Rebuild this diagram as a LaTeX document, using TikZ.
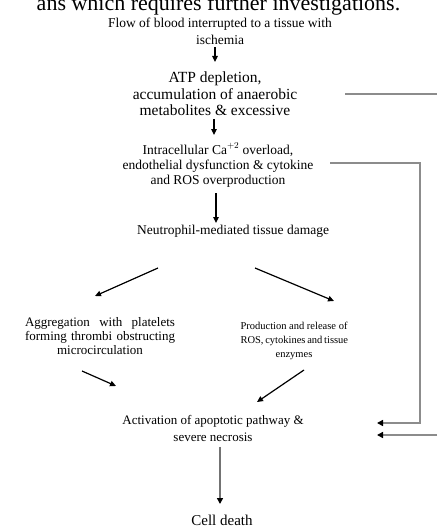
\documentclass[tikz,border=0pt]{standalone}
\usepackage{fontspec}
\setmainfont{Liberation Serif}
\usetikzlibrary{arrows.meta}
\begin{document}
\begin{tikzpicture}[x=1pt,y=-1pt,
  txt/.style={inner sep=0pt, align=center},
  arr/.style={line width=1.2pt, -{Triangle[length=6pt,width=5.5pt]}},
  garr/.style={draw=black!55, line width=1.6pt, -{Triangle[length=6pt,width=6pt,color=black]}},
  side/.style={draw=black!45, line width=1.6pt},
  sidearr/.style={draw=black!45, line width=1.6pt, -{Triangle[length=6pt,width=6pt,color=black]}}]
\useasboundingbox (0,0) rectangle (437,527);
\clip (0,0) rectangle (437,527);

\node[inner sep=0pt, anchor=base, font=\fontsize{22}{26}\selectfont] (head) at (218.5,11) {ans which requires further investigations.};

\node[txt, font=\fontsize{13.5}{17}\selectfont] (flow) at (220,31.5) {Flow of blood interrupted to a tissue with\\ischemia};
\node[txt, font=\fontsize{15.5}{16.5}\selectfont] (atp) at (215,94) {ATP depletion,\\accumulation of anaerobic\\metabolites \& excessive};
\node[txt, font=\fontsize{13.5}{15}\selectfont] (ca) at (218,165) {Intracellular Ca$^{+2}$ overload,\\endothelial dysfunction \& cytokine\\and ROS overproduction};
\node[txt, font=\fontsize{13.5}{15}\selectfont] (neut) at (233,231) {Neutrophil-mediated tissue damage};
\node[txt, font=\fontsize{13}{14}\selectfont] (agg) at (100,336) {\makebox[150pt][s]{Aggregation with platelets}\\\makebox[150pt][s]{forming thrombi obstructing}\\microcirculation};
\node[txt, font=\fontsize{10.5}{14}\selectfont] (prod) at (294,341) {\makebox[107pt][s]{Production and release of}\\\makebox[107pt][s]{ROS, cytokines and tissue}\\enzymes};
\node[txt, font=\fontsize{13}{17}\selectfont] (act) at (213,428.5) {Activation of apoptotic pathway \&\\severe necrosis};
\node[txt, font=\fontsize{15}{17}\selectfont] (cell) at (222,520) {Cell death};

\coordinate (n1) at (158,268); \coordinate (n2) at (95,296);
\coordinate (n3) at (255,268); \coordinate (n4) at (334,301);
\coordinate (a1) at (82,371); \coordinate (a2) at (116,386);
\coordinate (p1) at (304,370); \coordinate (p2) at (257,402);
\coordinate (s1a) at (345,94); \coordinate (s1b) at (437,94);
\coordinate (s2a) at (330,163); \coordinate (s2b) at (420,163); \coordinate (s2c) at (420,423); \coordinate (s2d) at (377,423);
\coordinate (s3a) at (437,435); \coordinate (s3b) at (377,435);

\draw[arr] (flow.south -| 215,0) ++(0,2) -- (215,62);
\draw[arr] (atp.south -| 214,0) ++(0,3) -- (214,135);
\draw[arr, line width=1.5pt] (ca.south -| 216,0) ++(0,6) -- (216,223);
\draw[arr] (n1) -- (n2);
\draw[arr] (n3) -- (n4);
\draw[arr] (a1) -- (a2);
\draw[arr] (p1) -- (p2);
\draw[garr] (act.south -| 220,0) ++(0,5) -- (220,504);

\draw[side] (s1a) -- (s1b);
\draw[sidearr] (s2a) -- (s2b) -- (s2c) -- (s2d);
\draw[sidearr] (s3a) -- (s3b);
\end{tikzpicture}
\end{document}
